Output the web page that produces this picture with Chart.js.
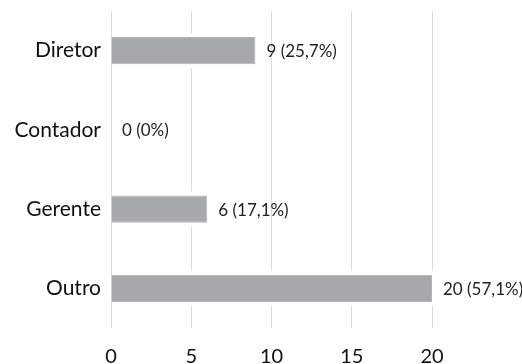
<!DOCTYPE html>
<html lang="pt">
<head>
    <meta charset="UTF-8">
    <title>Cargo</title>
    <script src="https://cdn.jsdelivr.net/npm/chart.js"></script>
    <style>
        body {
            margin: 0;
            background: #fff;
        }
    </style>
</head>
<body>
    <canvas id="cargoChart" width="522" height="364"></canvas>
    <script>
        const cargos = ['Diretor', 'Contador', 'Gerente', 'Outro'];
        const respostas = [9, 0, 6, 20];
        const xTicks = [0, 5, 10, 15, 20];

        const total = respostas.reduce((a, b) => a + b, 0);
        const fonte = 'Lato, "Open Sans", sans-serif';

        // white halo around each bar so the gridlines stop short of it
        const halo = {
            id: 'halo',
            beforeDatasetsDraw(chart) {
                const ctx = chart.ctx;
                ctx.save();
                ctx.fillStyle = '#fff';
                chart.getDatasetMeta(0).data.forEach((bar, i) => {
                    if (!respostas[i]) return;
                    const h = bar.height / 2;
                    ctx.fillRect(bar.base + 2, bar.y - h - 4, bar.x - bar.base + 2, h * 2 + 8);
                });
                ctx.restore();
            }
        };

        // "n (pp,p%)" text right of each bar
        const rotulos = {
            id: 'rotulos',
            afterDatasetsDraw(chart) {
                const ctx = chart.ctx;
                ctx.save();
                ctx.font = '17px ' + fonte;
                ctx.fillStyle = '#222';
                ctx.textBaseline = 'middle';
                chart.getDatasetMeta(0).data.forEach((bar, i) => {
                    const v = respostas[i];
                    const pct = v === 0 ? '0' : (v / total * 100).toFixed(1).replace('.', ',');
                    ctx.fillText(v + ' (' + pct + '%)', bar.x + 11, bar.y + 1);
                });
                ctx.restore();
            }
        };

        new Chart(document.getElementById('cargoChart'), {
            type: 'bar',
            data: {
                labels: cargos,
                datasets: [{
                    data: respostas,
                    backgroundColor: '#a7a8aa',
                    borderColor: '#b4b5b7',
                    borderWidth: 1,
                    borderSkipped: 'start',
                    categoryPercentage: 1,
                    barPercentage: 0.345
                }]
            },
            options: {
                indexAxis: 'y',
                responsive: false,
                animation: false,
                layout: { padding: { top: 11, right: 90, left: 0, bottom: 0 } },
                plugins: {
                    legend: { display: false },
                    tooltip: { enabled: false }
                },
                scales: {
                    x: {
                        min: 0,
                        max: 20,
                        afterBuildTicks(scale) {
                            scale.ticks = xTicks.map(v => ({ value: v }));
                        },
                        afterFit(scale) {
                            scale.height = 36;
                        },
                        grid: { color: '#dcdcdc', lineWidth: 1, drawTicks: false },
                        border: { display: false },
                        ticks: {
                            padding: 17,
                            color: '#111',
                            font: { family: fonte, size: 20 }
                        }
                    },
                    y: {
                        afterFit(scale) {
                            scale.width = 111;
                            scale.paddingTop = 0;
                            scale.paddingBottom = 0;
                        },
                        grid: { display: false, drawTicks: false },
                        border: { display: false },
                        ticks: {
                            padding: 10,
                            color: '#111',
                            font: { family: fonte, size: 21 }
                        }
                    }
                }
            },
            plugins: [halo, rotulos]
        });
    </script>
</body>
</html>
